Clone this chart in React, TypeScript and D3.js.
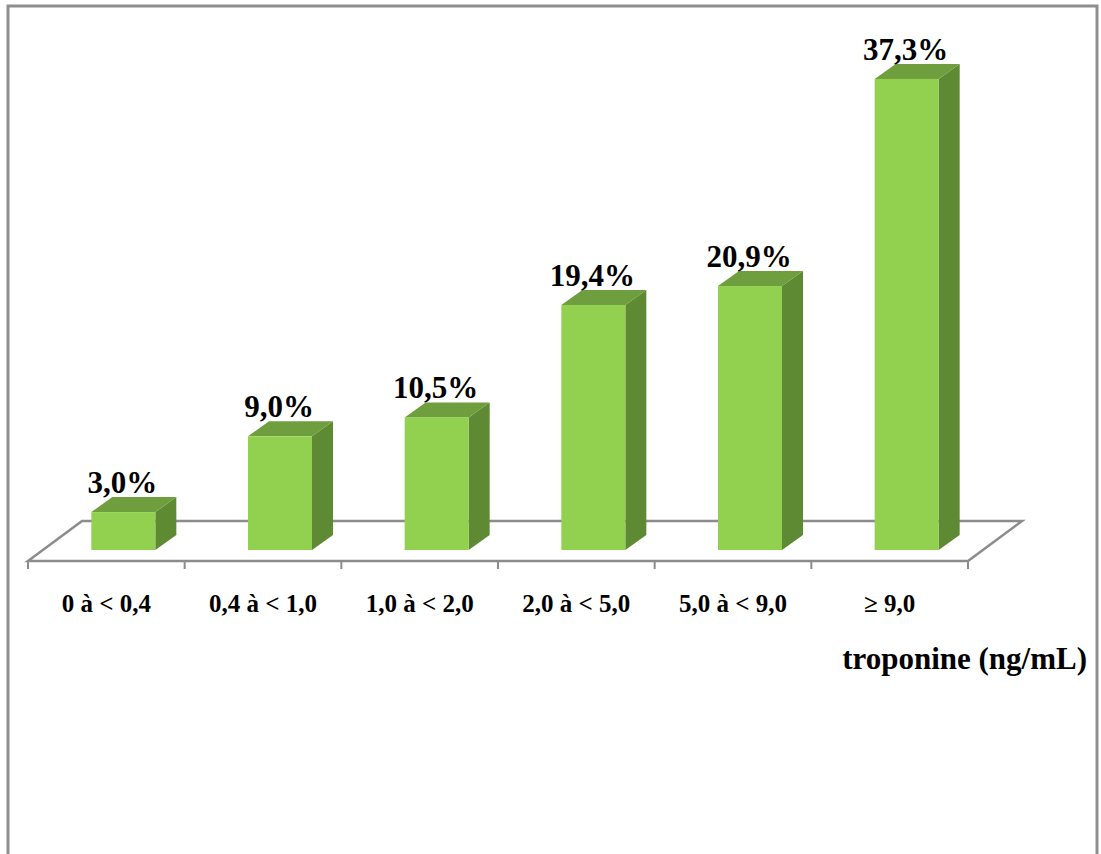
import React from "react";
import * as d3 from "d3";

// Troponine classes and share of patients (%)
const categories: string[] = [
  "0 à < 0,4",
  "0,4 à < 1,0",
  "1,0 à < 2,0",
  "2,0 à < 5,0",
  "5,0 à < 9,0",
  "≥ 9,0",
];
const values: number[] = [3.0, 9.0, 10.5, 19.4, 20.9, 37.3];
const valueLabels: string[] = ["3,0%", "9,0%", "10,5%", "19,4%", "20,9%", "37,3%"];
const axisTitle = "troponine (ng/mL)";

const W = 1101;
const H = 854;

// floor geometry (pseudo-3D)
const floorFrontY = 561;
const floorBackY = 521;
const floorLeft = 28;
const floorRight = 968;
const floorDx = 54;
const barBaseY = 550; // bars sit slightly back on the floor
const barShift = 17; // horizontal shift caused by that depth
const barW = 64;
const bdx = 21; // bar depth offset
const bdy = 15;

const FRONT = "#92D050";
const TOP = "#6F9E3E";
const SIDE = "#5E8A34";
const GRID = "#8C8C8C";
const FONT = "'Liberation Serif', 'Times New Roman', serif";

export default function App() {
  const x = d3.scaleBand<string>().domain(categories).range([floorLeft, floorRight]).padding(0);
  const y = d3.scaleLinear().domain([0, 40]).range([barBaseY, barBaseY - 505.2]);

  const tickXs = [...categories.map((c) => x(c) as number), floorRight];
  const floorPts = [
    [floorLeft, floorFrontY],
    [floorLeft + floorDx, floorBackY],
    [floorRight + floorDx, floorBackY],
    [floorRight, floorFrontY],
  ];

  return (
    <svg
      width={W}
      height={H}
      style={{ position: "absolute", left: 0, top: 0, background: "#fff" }}
    >
      <rect x={8} y={6} width={1089} height={900} fill="#fff" stroke="#8E8E8E" strokeWidth={3} />

      {/* floor */}
      <polygon
        points={floorPts.map((p) => p.join(",")).join(" ")}
        fill="none"
        stroke={GRID}
        strokeWidth={2.5}
        strokeLinejoin="miter"
      />
      {tickXs.map((tx, i) => (
        <line key={i} x1={tx} x2={tx} y1={floorFrontY} y2={floorFrontY + 8} stroke={GRID} strokeWidth={2} />
      ))}

      {/* bars */}
      {categories.map((c, i) => {
        const cx = (x(c) as number) + x.bandwidth() / 2 + barShift;
        const xl = cx - barW / 2;
        const xr = cx + barW / 2;
        const top = y(values[i]);
        const side = `${xr},${barBaseY} ${xr + bdx},${barBaseY - bdy} ${xr + bdx},${top - bdy} ${xr},${top}`;
        const topFace = `${xl},${top} ${xr},${top} ${xr + bdx},${top - bdy} ${xl + bdx},${top - bdy}`;
        return (
          <g key={c}>
            <polygon points={side} fill={SIDE} />
            <polygon points={topFace} fill={TOP} />
            <rect x={xl} y={top} width={barW} height={barBaseY - top} fill={FRONT} />
            <text
              x={cx - 1}
              y={top - 19}
              textAnchor="middle"
              fontFamily={FONT}
              fontWeight="bold"
              fontSize={31}
              fill="#000"
            >
              {valueLabels[i]}
            </text>
          </g>
        );
      })}

      {/* category labels */}
      {categories.map((c) => (
        <text
          key={c}
          x={(x(c) as number) + x.bandwidth() / 2}
          y={612}
          textAnchor="middle"
          fontFamily={FONT}
          fontWeight="bold"
          fontSize={25}
          fill="#000"
        >
          {c}
        </text>
      ))}

      <text x={1087} y={669} textAnchor="end" fontFamily={FONT} fontWeight="bold" fontSize={31} fill="#000">
        {axisTitle}
      </text>
    </svg>
  );
}
